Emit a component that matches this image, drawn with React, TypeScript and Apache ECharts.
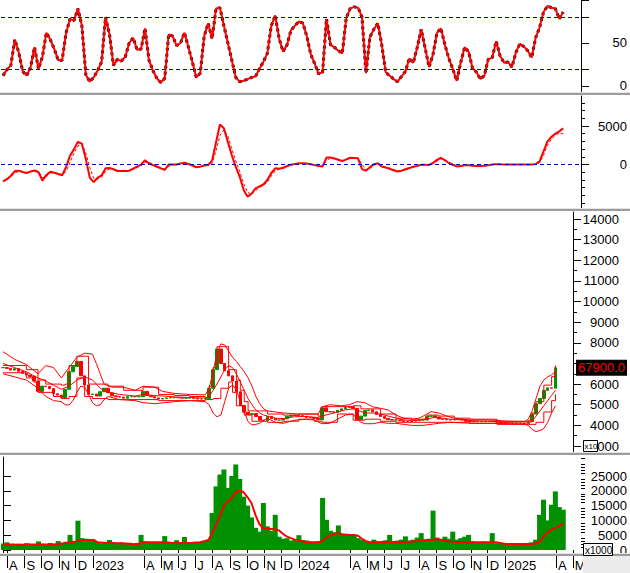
import React, { useEffect, useRef } from "react";
import * as echarts from "echarts";

const DAY = 86400000;
const FIRST_WEEK = Date.UTC(2022, 6, 25);
const WEEK_COUNT = 147; // 143 traded weeks + empty weeks up to the right axis
const MONTH_LETTERS = ["J", "F", "M", "A", "M", "J", "J", "A", "S", "O", "N", "D"];
const FONT = "'Liberation Sans', Arial, sans-serif";

const weeks = Array.from({ length: WEEK_COUNT }, (_, k) =>
  new Date(FIRST_WEEK + k * 7 * DAY).toISOString().slice(0, 10)
);

// ---- Oscillator (top panel)
const rsi = [
  12, 19, 24, 54, 39, 17, 12, 22, 45, 20,
  34, 62, 54, 43, 30, 30, 62, 78, 76, 90,
  70, 13, 5, 10, 18, 28, 80, 60, 24, 31,
  29, 34, 50, 56, 42, 43, 67, 30, 18, 9,
  4, 9, 60, 58, 47, 50, 62, 45, 28, 10,
  15, 58, 73, 55, 90, 91, 70, 50, 30, 10,
  5, 6, 8, 10, 11, 20, 28, 38, 70, 82,
  55, 40, 48, 65, 70, 75, 73, 58, 37, 26,
  14, 16, 78, 48, 45, 41, 38, 79, 90, 92,
  91, 80, 15, 57, 66, 73, 48, 16, 12, 8,
  5, 11, 17, 32, 27, 45, 66, 44, 22, 37,
  62, 67, 48, 32, 20, 6, 27, 45, 40, 21,
  16, 8, 12, 31, 33, 52, 35, 27, 28, 22,
  39, 49, 46, 41, 33, 56, 68, 86, 93, 91,
  90, 78, 86,
];
const rsiBands = [20, 80];
const rsiLabels = [0, 50];
const rsiTicks = [0, 20, 50, 80, 100];

// ---- MACD (second panel)
const macd = [
  -2200, -1900, -1450, -850, -800, -970, -1100, -900, -780, -1000,
  -2100, -1350, -930, -1080, -1230, -1400, -300, 1150, 2000, 2950,
  2700, 700, -1700, -2300, -1700, -1420, -500, -450, -620, -840,
  -840, -840, -810, -530, -280, -20, 560, 130, -80, -290,
  -500, -700, 0, 0, 0, 120, 220, 60, -130, -360,
  -280, -120, -60, 500, 2900, 5200, 4700, 2900, 1200, -300,
  -1600, -3300, -4180, -3800, -3100, -2850, -2600, -2000, -1100, -500,
  -560, -420, -200, -20, 80, 150, 150, 130, 30, -80,
  -200, -250, 900, 900, 790, 620, 450, 670, 880, 840,
  800, -600, -800, -350, 50, 150, -250, -400, -550, -750,
  -900, -800, -620, -450, -300, -180, -40, -20, -50, 200,
  600, 870, 550, 200, -30, -250, -200, -100, -100, -160,
  -190, -180, -160, -110, 0, 50, 20, 0, 0, 0,
  0, 0, 0, 0, 0, 50, 400, 1700, 3000, 3600,
  4000, 4300, 4700,
];
const macdSignal = [
  -2100, -2000, -1600, -1100, -900, -950, -1050, -950, -850, -900,
  -1700, -1600, -1100, -1050, -1150, -1350, -900, 300, 1500, 2400,
  2700, 1500, -400, -1800, -1900, -1600, -900, -550, -600, -750,
  -830, -830, -830, -650, -400, -150, 300, 300, 50, -150,
  -400, -600, -250, -50, 0, 80, 180, 120, -50, -250,
  -300, -200, -100, 100, 1800, 3800, 4500, 3700, 2000, 500,
  -900, -2500, -3600, -3900, -3400, -3000, -2700, -2300, -1500, -800,
  -600, -480, -280, -80, 40, 120, 150, 140, 60, -40,
  -150, -230, 500, 850, 820, 680, 500, 600, 800, 840,
  810, 0, -650, -500, -100, 100, -100, -330, -480, -680,
  -850, -830, -680, -500, -350, -220, -80, -30, -40, 100,
  450, 780, 650, 300, 50, -180, -210, -130, -100, -140,
  -180, -180, -170, -120, -20, 30, 30, 0, 0, 0,
  0, 0, 0, 0, 0, 20, 250, 1200, 2500, 3300,
  3800, 4100, 4000,
];
const macdLabels = [0, 5000];
const macdMinorTicks = [-5000, -4000, -3000, -2000, -1000, 1000, 2000, 3000, 4000, 6000, 7000, 8000];

// ---- Price (third panel), values in units of 10
const closes = [
  6800, 6760, 6680, 6750, 6620, 6520, 6440, 6370, 6150, 5650,
  5900, 5880, 5780, 5530, 5470, 5350, 5750, 6600, 6850, 7100,
  6400, 5960, 5500, 5520, 5420, 5630, 5800, 5580, 5430, 5390,
  5370, 5320, 5390, 5390, 5390, 5390, 5650, 5440, 5390, 5330,
  5280, 5300, 5330, 5345, 5345, 5340, 5320, 5320, 5345, 5310,
  5280, 5280, 5300, 5800, 6700, 7700, 7000, 6650, 6400, 6150,
  5630, 4970, 4640, 4530, 4570, 4430, 4250, 4230, 4430, 4330,
  4262, 4262, 4320, 4440, 4480, 4500, 4470, 4440, 4390, 4380,
  4340, 4270, 4850, 4667, 4660, 4630, 4730, 4800, 4870, 4908,
  4820, 4270, 4450, 4720, 4750, 4660, 4530, 4430, 4340, 4280,
  4262, 4262, 4230, 4180, 4190, 4210, 4250, 4262, 4262, 4440,
  4460, 4400, 4310, 4290, 4270, 4265, 4280, 4300, 4260, 4200,
  4190, 4180, 4180, 4180, 4190, 4200, 4190, 4150, 4110, 4100,
  4100, 4100, 4100, 4100, 4100, 4180, 4550, 5050, 5300, 5700,
  5820, 5800, 6790,
];
const bbUpper = [
  [0, 7570], [3, 7200], [6, 6950], [9, 6500], [11, 6900], [13, 6800], [15, 6300], [17, 6800],
  [19, 7300], [21, 7500], [23, 7450], [24, 7000], [25, 6500], [26, 6000], [28, 5850], [31, 5850],
  [34, 5700], [36, 5900], [39, 5850], [41, 5650], [44, 5550], [48, 5500], [52, 5480], [53, 5800],
  [54, 6600], [55, 7500], [56, 7950], [57, 7900], [58, 7600], [59, 7300], [60, 7100], [61, 6850],
  [62, 6600], [63, 6300], [64, 5900], [65, 5400], [66, 5050], [67, 4800], [68, 4700], [72, 4600],
  [76, 4550], [81, 4550], [82, 4900], [84, 5000], [87, 4950], [89, 5000], [91, 5150], [93, 5100],
  [95, 4900], [97, 4830], [99, 4750], [101, 4500], [103, 4350], [105, 4300], [107, 4350], [109, 4550],
  [110, 4667], [112, 4600], [114, 4450], [116, 4350], [118, 4300], [120, 4262], [125, 4262], [130, 4200],
  [134, 4180], [135, 4300], [136, 4700], [137, 5300], [138, 5900], [139, 6200], [140, 6350], [141, 6450],
  [142, 6600],
];
const bbMid = [
  [0, 7000], [3, 6800], [6, 6600], [9, 6300], [11, 6150], [13, 5950], [15, 5750], [17, 5900],
  [19, 6200], [21, 6350], [23, 6200], [25, 5800], [27, 5600], [30, 5500], [34, 5420], [36, 5500],
  [39, 5450], [44, 5380], [48, 5350], [52, 5320], [53, 5400], [54, 5700], [55, 6000], [56, 6350],
  [57, 6700], [58, 6900], [59, 6800], [60, 6500], [61, 6100], [62, 5700], [63, 5300], [64, 5000],
  [65, 4750], [66, 4600], [67, 4500], [68, 4450], [70, 4350], [72, 4330], [75, 4420], [78, 4430],
  [81, 4380], [82, 4450], [84, 4550], [86, 4650], [88, 4750], [90, 4800], [91, 4750], [93, 4600],
  [95, 4600], [97, 4550], [99, 4450], [101, 4350], [103, 4270], [105, 4230], [107, 4250], [109, 4320],
  [111, 4380], [113, 4350], [115, 4300], [118, 4270], [121, 4220], [125, 4200], [130, 4130], [134, 4110],
  [135, 4120], [136, 4200], [137, 4450], [138, 4700], [139, 4950], [140, 5200], [141, 5450], [142, 5700],
];
const bbLower = [
  [0, 6500], [3, 6350], [6, 6200], [9, 5800], [11, 5400], [13, 5200], [15, 5150], [16, 5000],
  [17, 4990], [18, 5200], [19, 5600], [20, 5900], [21, 5850], [22, 5500], [23, 5100], [24, 4950],
  [25, 5000], [26, 5250], [27, 5400], [30, 5250], [34, 5200], [36, 5100], [39, 5050], [44, 5150],
  [48, 5200], [52, 5150], [53, 5000], [54, 4600], [55, 4420], [56, 4500], [57, 5150], [58, 5800],
  [59, 5960], [60, 5715], [61, 5150], [62, 4670], [63, 4180], [64, 4020], [65, 4050], [66, 4100],
  [67, 4250], [68, 4340], [70, 4150], [72, 4100], [75, 4250], [78, 4300], [80, 4260], [82, 4080],
  [84, 4100], [86, 4300], [88, 4500], [90, 4550], [91, 4300], [92, 4150], [93, 4080], [95, 4080],
  [97, 4150], [99, 4100], [101, 4100], [103, 4050], [105, 4000], [108, 4000], [110, 4050], [112, 4100],
  [115, 4150], [118, 4120], [121, 4100], [125, 4100], [130, 4070], [134, 4060], [135, 4000], [136, 3800],
  [137, 3700], [138, 3750], [139, 3850], [140, 4150], [141, 4600], [142, 4950],
];
const chanHigh = [
  [0, 6900], [6, 6700], [9, 6200], [11, 6000], [15, 5950], [16, 6000], [17, 6900], [19, 7350],
  [22, 6000], [27, 5900], [31, 5700], [36, 5850], [40, 5500], [44, 5450], [48, 5400], [52, 5350],
  [53, 5900], [54, 6800], [55, 7813], [58, 6700], [60, 6200], [61, 5700], [62, 5150], [63, 4700],
  [68, 4550], [72, 4500], [76, 4550], [81, 4450], [82, 4908], [90, 4950], [92, 4800], [97, 4550],
  [101, 4350], [105, 4300], [109, 4500], [112, 4450], [116, 4350], [120, 4300], [127, 4200], [135, 4250],
  [136, 4600], [137, 5150], [139, 5950], [141, 6360], [142, 6900],
];
const chanLow = [
  [0, 6550], [6, 6300], [8, 6100], [9, 5600], [13, 5400], [15, 5300], [17, 5400], [19, 6300],
  [21, 5400], [23, 5300], [27, 5250], [36, 5250], [40, 5200], [48, 5200], [52, 5250], [54, 5300],
  [56, 5800], [58, 6100], [59, 5600], [60, 4950], [62, 4500], [64, 4200], [68, 4150], [72, 4200],
  [76, 4300], [80, 4200], [82, 4150], [86, 4550], [90, 4250], [93, 4300], [97, 4200], [101, 4150],
  [113, 4150], [120, 4100], [127, 4050], [135, 4050], [137, 4150], [139, 4650], [141, 5200], [142, 5500],
];
const lastPrice = 6790;
const priceLabels = [3000, 4000, 5000, 6000, 8000, 9000, 10000, 11000, 12000, 13000, 14000];
const priceMajorTicks = [3000, 4000, 5000, 6000, 7000, 8000, 9000, 10000, 11000, 12000, 13000, 14000];
const priceMinorTicks = [3500, 4500, 5500, 6500, 7500, 8500, 9500, 10500, 11500, 12500, 13500];

// ---- Volume (bottom panel), units of 1000
const volume = [
  2200, 2600, 2000, 1800, 2100, 1900, 2300, 1800, 2000, 2900,
  2100, 1900, 2400, 2000, 3000, 2200, 2800, 5100, 2900, 9900,
  4000, 3800, 3400, 3200, 2600, 2300, 2400, 3400, 2300, 2200,
  2500, 2000, 2300, 2100, 2400, 5100, 3000, 2600, 2500, 2600,
  2800, 4700, 2600, 2500, 3300, 2700, 4400, 2600, 2400, 2600,
  2500, 3000, 3500, 12500, 21500, 25500, 27200, 21000, 25000, 28900,
  24000, 18000, 15000, 11000, 7500, 6200, 15900, 8000, 6500, 11900,
  4500, 3800, 4000, 3200, 3500, 5000, 3400, 3200, 2800, 2600,
  3000, 17600, 10200, 6500, 6000, 8300, 5100, 5500, 5100, 4800,
  4000, 3500, 3000, 2800, 3500, 2900, 3000, 3300, 5100, 3000,
  3200, 3500, 4600, 3200, 3500, 4200, 5700, 3500, 3800, 13300,
  4200, 3600, 4500, 3800, 6200, 3500, 4000, 4500, 5100, 3000,
  2600, 2400, 2800, 2600, 5700, 2300, 2200, 2400, 2300, 2100,
  2200, 2300, 2100, 2400, 2600, 3500, 11900, 17000, 10000, 15300,
  19800, 14500, 13600,
];
const volumeMA = [
  1900, 1880, 1850, 1820, 1800, 1800, 1820, 1840, 1860, 1870,
  1880, 1890, 1900, 1950, 2050, 2200, 2350, 2550, 2750, 3000,
  3400, 3400, 3400, 3400, 2600, 2500, 2450, 2400, 2350, 2300,
  2300, 2200, 2100, 2000, 1950, 2300, 2600, 2600, 2600, 2600,
  2600, 2550, 2500, 2400, 2350, 2300, 2350, 2400, 2450, 2550,
  2600, 3000, 3300, 5500, 8500, 11500, 15000, 16500, 17600, 19500,
  20100, 19500, 17800, 15800, 11800, 8700, 7300, 7100, 7100, 7000,
  6600, 5400, 4500, 4000, 3500, 3300, 2900, 2600, 2600, 2600,
  2600, 3100, 4200, 5000, 5400, 5700, 5300, 5100, 5100, 5100,
  4800, 3800, 3000, 2600, 2600, 2600, 2600, 2600, 2600, 2600,
  2600, 2600, 2700, 2800, 2900, 3000, 3100, 3300, 3400, 3500,
  3600, 3500, 3200, 2900, 2800, 2700, 2600, 2500, 2500, 2550,
  2600, 2600, 2600, 2600, 2600, 2600, 2400, 2100, 2000, 2000,
  2000, 2000, 2000, 2000, 2000, 2300, 2800, 4500, 5800, 6900,
  7500, 8100, 9000,
];
const volumeLabels = [0, 5000, 10000, 15000, 20000, 25000];

export default function App() {
  const ref = useRef<HTMLDivElement>(null);

  useEffect(() => {
    if (!ref.current) return;
    const chart = echarts.init(ref.current, undefined, { renderer: "svg" });

    const monthStarts: number[] = [];
    for (let y = 2022; y <= 2025; y++) {
      for (let m = 0; m < 12; m++) {
        const t = Date.UTC(y, m, 1);
        if (t < Date.UTC(2022, 7, 1) || t > Date.UTC(2025, 4, 1)) continue;
        if (m === 1 || m === 2) continue;
        monthStarts.push((t - FIRST_WEEK) / DAY);
      }
    }
    const volumeMinor: number[] = [];
    for (let v = 1000; v <= 31000; v += 1000) if (v % 5000 !== 0) volumeMinor.push(v);

    const candles = closes.map((c, i) => {
      const o = i === 0 ? c : closes[i - 1];
      return [o, c, Math.min(o, c), Math.max(o, c)];
    });

    const grids = [
      { left: 1, right: 48, top: 0, height: 92 },
      { left: 1, right: 48, top: 96, height: 112 },
      { left: 1, right: 48, top: 212, height: 240 },
      { left: 1, right: 48, top: 457, height: 97 },
    ];

    const catAxis = (gridIndex: number) => ({
      type: "category",
      gridIndex,
      data: weeks,
      boundaryGap: true,
      show: false,
    });

    const labelStyle = { color: "#000", fontSize: 13, fontFamily: FONT };

    const mainY = (gridIndex: number, min: number, max: number, labels: number[], ticks: number[]) => ({
      type: "value",
      gridIndex,
      position: "right",
      min,
      max,
      axisLine: { show: true, lineStyle: { color: "#000", width: 1 } },
      axisTick: { show: true, customValues: ticks, length: 8, lineStyle: { color: "#000" } },
      axisLabel: {
        ...labelStyle,
        customValues: labels,
        align: "right",
        margin: 46,
        formatter: (v: number) => String(v),
      },
      splitLine: { show: false },
    });
    const minorY = (gridIndex: number, min: number, max: number, ticks: number[]) => ({
      type: "value",
      gridIndex,
      position: "right",
      min,
      max,
      axisLine: { show: false },
      axisTick: { show: true, customValues: ticks, length: 4, lineStyle: { color: "#000" } },
      axisLabel: { show: false },
      splitLine: { show: false },
    });

    const redLine = (data: any, xAxisIndex: number, yAxisIndex: number, width = 1, extra: any = {}) => ({
      type: "line",
      data,
      xAxisIndex,
      yAxisIndex,
      symbol: "none",
      showSymbol: false,
      lineStyle: { color: "#ff0000", width },
      ...extra,
    });

    const sep = (y: number) => [
      { type: "rect", z: 100, shape: { x: 0, y, width: 630, height: 1 }, style: { fill: "#e4e4e4" } },
      { type: "rect", z: 100, shape: { x: 0, y: y + 1, width: 630, height: 2 }, style: { fill: "#9c9c9c" } },
    ];

    chart.setOption({
      animation: false,
      backgroundColor: "#fff",
      grid: grids,
      xAxis: [
        catAxis(0),
        catAxis(1),
        catAxis(2),
        catAxis(3),
        {
          type: "value",
          gridIndex: 3,
          position: "bottom",
          min: -3.5,
          max: WEEK_COUNT * 7 - 3.5,
          axisLine: { show: false },
          axisTick: { show: true, customValues: monthStarts, length: 18, lineStyle: { color: "#000" } },
          axisLabel: {
            ...labelStyle,
            customValues: monthStarts,
            align: "left",
            margin: 5,
            padding: [0, 0, 0, 2],
            formatter: (v: number) => {
              const d = new Date(FIRST_WEEK + Math.round(v) * DAY);
              const m = d.getUTCMonth();
              return m === 0 ? String(d.getUTCFullYear()) : MONTH_LETTERS[m];
            },
          },
          splitLine: { show: false },
        },
      ],
      yAxis: [
        mainY(0, -7, 100, rsiLabels, rsiTicks),
        mainY(1, -5650, 8900, macdLabels, macdLabels),
        minorY(1, -5650, 8900, macdMinorTicks),
        mainY(2, 2710, 14340, priceLabels, priceMajorTicks),
        minorY(2, 2710, 14340, priceMinorTicks),
        {
          type: "value",
          gridIndex: 2,
          position: "right",
          min: 2710,
          max: 14340,
          axisLine: { show: false },
          axisTick: { show: false },
          axisLabel: {
            customValues: [lastPrice],
            color: "#ff0000",
            fontSize: 13,
            fontFamily: FONT,
            backgroundColor: "#000",
            padding: [2, 2, 1, 2],
            align: "left",
            margin: 3,
            formatter: (v: number) => (v * 10).toFixed(1),
          },
          splitLine: { show: false },
        },
        mainY(3, -1350, 31420, volumeLabels, volumeLabels),
        minorY(3, -1350, 31420, volumeMinor),
      ],
      series: [
        {
          type: "line",
          data: rsi,
          xAxisIndex: 0,
          yAxisIndex: 0,
          symbol: "none",
          lineStyle: { color: "#000", width: 3, type: [3, 3] },
          markLine: {
            silent: true,
            symbol: "none",
            label: { show: false },
            lineStyle: { color: "#0000cc", type: [4, 3], width: 1 },
            data: rsiBands.map((v) => ({ yAxis: v })),
          },
        },
        redLine(rsi, 0, 0, 2),
        redLine(macdSignal, 1, 1, 1, {
          lineStyle: { color: "#ff0000", width: 1, type: [3, 2] },
          markLine: {
            silent: true,
            symbol: "none",
            label: { show: false },
            lineStyle: { color: "#0000cc", type: [4, 3], width: 1 },
            data: [{ yAxis: 0 }],
          },
        }),
        redLine(macd, 1, 1, 2),
        redLine(bbUpper, 2, 3, 1),
        redLine(bbMid, 2, 3, 1),
        redLine(bbLower, 2, 3, 1),
        redLine(chanHigh, 2, 3, 1, { step: "end" }),
        redLine(chanLow, 2, 3, 1, { step: "end" }),
        {
          type: "candlestick",
          data: candles,
          xAxisIndex: 2,
          yAxisIndex: 3,
          barWidth: 3,
          itemStyle: {
            color: "#009000",
            color0: "#ff0000",
            borderColor: "#009000",
            borderColor0: "#ff0000",
            borderWidth: 1,
          },
        },
        {
          type: "bar",
          data: volume,
          xAxisIndex: 3,
          yAxisIndex: 6,
          barWidth: 5,
          itemStyle: { color: "#009000", borderWidth: 0 },
        },
        redLine(volumeMA, 3, 6, 2),
      ],
      graphic: [
        ...sep(92),
        ...sep(208),
        ...sep(452),
        ...sep(553),
        { type: "rect", z: 100, shape: { x: 583, y: 556, width: 47, height: 17 }, style: { fill: "#ececec" } },
        { type: "rect", z: 101, shape: { x: 583.5, y: 440.5, width: 14, height: 11 }, style: { fill: "#fff", stroke: "#000", lineWidth: 1 } },
        { type: "text", z: 102, x: 584.5, y: 446, style: { text: "x10", fontSize: 8, fontFamily: FONT, fill: "#000", verticalAlign: "middle" } },
        { type: "rect", z: 101, shape: { x: 583.5, y: 543.5, width: 29, height: 12 }, style: { fill: "#fff", stroke: "#000", lineWidth: 1 } },
        { type: "text", z: 102, x: 585, y: 550, style: { text: "x1000", fontSize: 10, fontFamily: FONT, fill: "#000", verticalAlign: "middle" } },
      ],
    });

    return () => chart.dispose();
  }, []);

  return (
    <div
      ref={ref}
      style={{ position: "fixed", left: 0, top: 0, width: 630, height: 573, background: "#fff" }}
    />
  );
}
